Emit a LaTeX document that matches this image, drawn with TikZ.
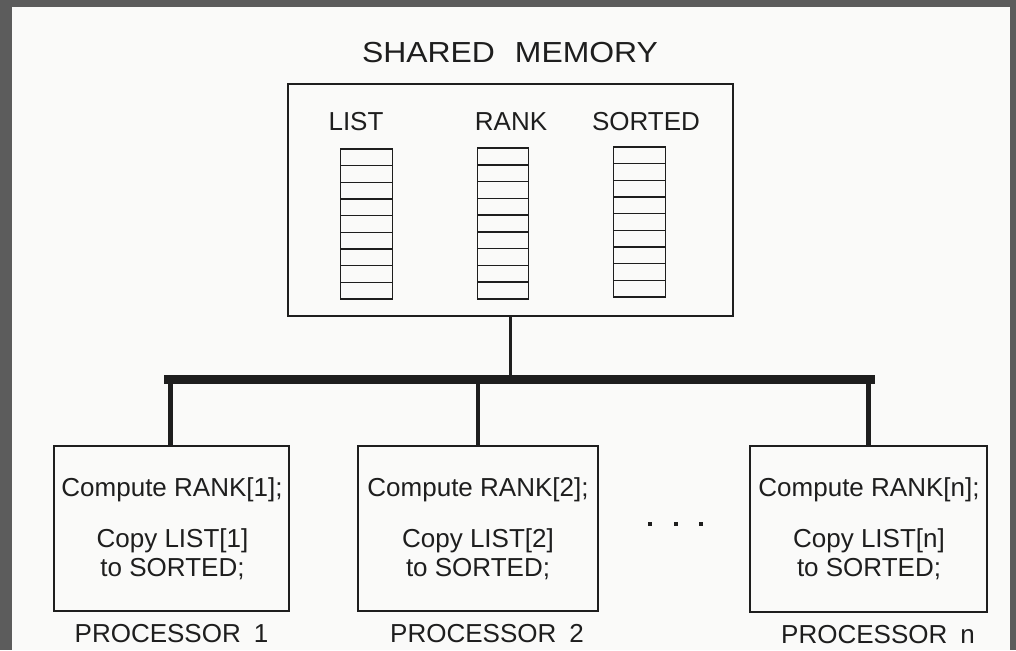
\documentclass[tikz,border=0pt]{standalone}
\usepackage{fontspec}
\setmainfont{Liberation Sans}
\newfontfamily\titlefont[FakeStretch=1.1]{Liberation Sans}
\definecolor{ink}{HTML}{1E1E1E}
\definecolor{frame}{HTML}{5C5C5C}
\definecolor{paper}{HTML}{FAFAF9}
\begin{document}
\begin{tikzpicture}[x=1pt,y=-1pt,
  every node/.style={inner sep=0pt, outer sep=0pt, text=ink},
  box/.style={draw=ink, line width=1.8pt},
  cell/.style={draw=ink, line width=1.4pt, minimum width=51.5pt, minimum height=16.67pt},
  txt/.style={anchor=base, font=\fontsize{26}{30}\selectfont},
  lbl/.style={anchor=base, font=\fontsize{26}{30}\selectfont},
  bus/.style={draw=ink, line width=9pt},
  drop/.style={draw=ink, line width=4.5pt},
  dotmark/.style={fill=ink, minimum width=4.5pt, minimum height=3.5pt}]
  % page and surrounding frame
  \useasboundingbox (0,0) rectangle (1016,650);
  \fill[frame] (0,0) rectangle (1016,650);
  \fill[paper] (12,7) rectangle (1010,650);

  % title
  \node[anchor=base, font=\titlefont\fontsize{29}{33}\selectfont] (title) at (510,63)
    {SHARED\hspace{20pt}MEMORY};

  % shared memory box
  \node[box, minimum width=445pt, minimum height=232pt] (mem) at (510.5,200) {};

  % arrays in shared memory
  \node[lbl] (listlbl) at (356,131) {LIST};
  \node[lbl] (ranklbl) at (511,131) {RANK};
  \node[lbl] (sortlbl) at (646,131) {SORTED};
  \foreach \i in {1,...,9} {
    \node[cell] (list\i) at (366.5,{149+16.67*(\i-0.5)}) {};
    \node[cell] (rank\i) at (503,{148+16.78*(\i-0.5)}) {};
    \node[cell, minimum width=52.5pt] (sort\i) at (639.5,{147+16.67*(\i-0.5)}) {};
  }

  % bus
  \coordinate (busL) at (164,379.5);
  \coordinate (busR) at (875,379.5);
  \draw[bus] (busL) -- (busR);
  \draw[draw=ink, line width=3pt] (mem.south) -- (mem.south |- busL);

  % processors
  \node[box, minimum width=235pt, minimum height=165pt] (p1) at (171.5,528.5) {};
  \node[box, minimum width=240pt, minimum height=165pt] (p2) at (478,528.5) {};
  \node[box, minimum width=237pt, minimum height=166pt] (pn) at (868.5,529) {};

  \draw[drop] (p1.north -| 170.5,0) -- (busL -| 170.5,0);
  \draw[drop] (p2.north) -- (p2.north |- busL);
  \draw[drop] (pn.north) -- (pn.north |- busL);

  % processor programs
  \node[txt] (p1a) at (172,496) {Compute RANK[1];};
  \node[txt] (p1b) at (172.5,547) {Copy LIST[1]};
  \node[txt] (p1c) at (172.5,576) {to SORTED;};
  \node[txt] (p2a) at (478,496) {Compute RANK[2];};
  \node[txt] (p2b) at (478,547) {Copy LIST[2]};
  \node[txt] (p2c) at (478,576) {to SORTED;};
  \node[txt] (pna) at (869,496) {Compute RANK[n];};
  \node[txt] (pnb) at (869,547) {Copy LIST[n]};
  \node[txt] (pnc) at (869,576) {to SORTED;};

  % processor names
  \node[lbl] (n1) at (171.5,642) {PROCESSOR\enspace 1};
  \node[lbl] (n2) at (487,642) {PROCESSOR\enspace 2};
  \node[lbl] (nn) at (878,643) {PROCESSOR\enspace n};

  % ellipsis between processors
  \node[dotmark] (d1) at (650,524) {};
  \node[dotmark] (d2) at (676,524) {};
  \node[dotmark] (d3) at (701,524) {};
\end{tikzpicture}
\end{document}
